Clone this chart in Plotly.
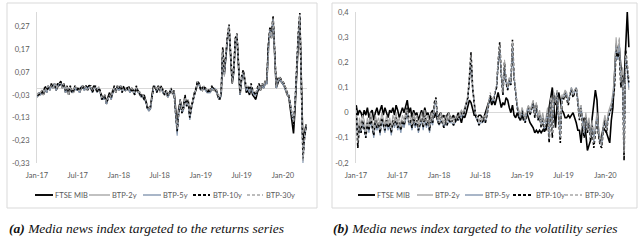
import pandas as pd
import plotly.graph_objects as go

W, H = 640, 252

# ---------------- data ----------------
dates = pd.date_range("2017-01-02", periods=172, freq="7D")
names = ["FTSE MIB", "BTP-2y", "BTP-5y", "BTP-10y", "BTP-30y"]

# (a) returns-targeted index
ret_ftse = [-0.04,-0.02,-0.03,-0.01,-0.03,0.00,-0.02,0.01,-0.01,0.02,
 0.00,0.02,-0.01,0.01,0.02,0.03,0.00,0.02,-0.02,0.01,
 -0.03,0.00,-0.01,-0.02,0.01,-0.01,0.00,-0.02,0.00,0.01,
 -0.01,0.01,0.00,0.01,0.00,-0.01,0.01,0.00,-0.01,0.00,
 -0.02,-0.04,-0.05,-0.03,-0.07,-0.04,-0.02,-0.05,-0.01,0.00,
 -0.02,0.01,-0.01,0.01,-0.01,0.00,-0.01,0.00,0.00,-0.02,
 0.00,-0.01,-0.02,0.00,-0.01,-0.02,-0.03,-0.04,-0.03,-0.06,
 -0.08,-0.10,-0.09,-0.03,0.01,0.00,-0.01,0.01,-0.01,0.00,
 -0.02,-0.02,-0.01,-0.04,-0.02,-0.01,-0.02,-0.01,-0.10,-0.17,
 -0.09,-0.06,-0.10,-0.08,-0.04,-0.07,-0.06,-0.12,-0.08,-0.06,
 -0.02,-0.01,0.03,0.01,0.00,-0.01,0.00,0.00,-0.02,-0.01,
 -0.02,0.00,0.00,-0.01,-0.01,-0.04,-0.05,-0.03,0.17,0.06,
 0.16,0.22,0.26,0.15,0.02,0.07,0.21,0.23,0.11,-0.03,
 0.04,0.07,0.03,-0.02,-0.01,-0.03,0.00,-0.03,-0.04,-0.05,
 -0.02,0.00,-0.01,0.01,0.00,0.02,0.02,0.18,0.25,0.22,
 0.30,0.14,0.00,0.02,0.04,0.03,0.02,0.01,-0.01,-0.03,
 -0.04,-0.09,-0.15,-0.20,-0.09,0.10,0.20,0.31,-0.05,-0.25,-0.20,-0.16]

ret_btp2 = [-0.04,-0.03,-0.02,-0.02,-0.03,0.00,-0.02,0.00,-0.01,0.01,
 0.00,0.01,-0.01,0.01,0.01,0.02,0.00,0.01,-0.02,0.00,
 -0.03,0.00,-0.02,-0.02,0.00,-0.01,-0.01,-0.02,0.00,0.00,
 -0.01,0.00,-0.01,0.00,0.00,-0.02,0.00,0.00,-0.02,-0.01,
 -0.02,-0.05,-0.05,-0.04,-0.07,-0.05,-0.03,-0.05,-0.02,0.00,
 -0.02,0.00,-0.01,0.00,-0.02,0.00,-0.01,-0.01,0.00,-0.02,
 -0.01,-0.02,-0.03,0.00,-0.02,-0.03,-0.04,-0.04,-0.05,-0.06,
 -0.09,-0.10,-0.09,-0.04,0.00,0.00,-0.02,0.00,-0.02,0.00,
 -0.02,-0.03,-0.02,-0.04,-0.03,-0.01,-0.03,-0.02,-0.11,-0.20,
 -0.11,-0.06,-0.11,-0.10,-0.04,-0.08,-0.06,-0.14,-0.09,-0.06,
 -0.03,-0.01,0.02,0.01,-0.01,-0.01,0.00,-0.01,-0.02,-0.02,
 -0.02,0.00,-0.01,-0.01,-0.02,-0.04,-0.05,-0.03,0.16,0.05,
 0.16,0.21,0.26,0.15,0.02,0.07,0.20,0.23,0.11,-0.03,
 0.04,0.07,0.03,-0.01,0.00,-0.02,0.01,-0.02,-0.03,-0.03,
 -0.01,0.01,-0.01,0.01,0.00,0.02,0.02,0.17,0.25,0.22,
 0.30,0.14,0.00,0.03,0.04,0.03,0.02,0.01,-0.01,-0.03,
 -0.04,-0.08,-0.12,-0.16,-0.07,0.10,0.22,0.31,-0.08,-0.32,-0.22,-0.18]

ret_btp5 = [-0.04,-0.02,-0.03,-0.02,-0.02,0.00,-0.02,0.01,-0.01,0.01,
 0.00,0.02,-0.01,0.02,0.01,0.02,0.01,0.01,-0.02,0.00,
 -0.02,0.00,-0.02,-0.01,0.00,-0.01,-0.01,-0.02,0.01,0.00,
 -0.01,0.01,-0.01,0.01,0.00,-0.02,0.00,0.01,-0.02,0.00,
 -0.02,-0.05,-0.05,-0.04,-0.07,-0.05,-0.03,-0.05,-0.02,0.00,
 -0.01,0.00,-0.01,0.01,-0.02,0.00,-0.01,-0.01,0.00,-0.02,
 -0.01,-0.01,-0.03,0.00,-0.02,-0.02,-0.04,-0.03,-0.05,-0.06,
 -0.09,-0.10,-0.09,-0.04,0.00,0.01,-0.02,0.00,-0.01,0.00,
 -0.02,-0.03,-0.01,-0.04,-0.03,0.00,-0.02,-0.02,-0.11,-0.21,
 -0.11,-0.06,-0.11,-0.10,-0.04,-0.08,-0.06,-0.14,-0.09,-0.06,
 -0.03,-0.01,0.03,0.01,-0.01,0.00,0.00,-0.01,-0.02,-0.02,
 -0.02,0.00,-0.01,0.00,-0.02,-0.04,-0.05,-0.03,0.17,0.06,
 0.16,0.22,0.27,0.15,0.03,0.07,0.21,0.23,0.11,-0.03,
 0.04,0.07,0.03,-0.01,0.00,-0.02,0.01,-0.02,-0.03,-0.03,
 -0.01,0.01,0.00,0.01,0.00,0.02,0.02,0.18,0.26,0.23,
 0.31,0.14,0.00,0.03,0.04,0.03,0.02,0.01,-0.01,-0.02,
 -0.04,-0.07,-0.12,-0.15,-0.06,0.11,0.23,0.32,-0.08,-0.33,-0.22,-0.17]

ret_btp10 = [-0.03,-0.03,-0.02,-0.02,-0.02,0.01,-0.01,0.00,0.00,0.01,
 0.01,0.01,0.00,0.02,0.01,0.02,0.01,0.01,-0.01,0.00,
 -0.02,0.01,-0.02,-0.01,0.00,0.00,-0.01,-0.01,0.01,0.00,
 0.00,0.01,-0.01,0.01,0.01,-0.02,0.00,0.01,-0.02,0.00,
 -0.01,-0.05,-0.04,-0.04,-0.06,-0.05,-0.03,-0.04,-0.02,0.01,
 -0.01,0.00,0.00,0.01,-0.02,0.01,-0.01,-0.01,0.01,-0.01,
 -0.01,-0.01,-0.03,0.01,-0.02,-0.02,-0.04,-0.03,-0.05,-0.05,
 -0.09,-0.09,-0.08,-0.04,0.00,0.01,-0.02,0.00,-0.01,0.01,
 -0.01,-0.03,-0.01,-0.03,-0.03,0.00,-0.02,-0.02,-0.11,-0.19,
 -0.11,-0.05,-0.11,-0.09,-0.03,-0.08,-0.05,-0.13,-0.09,-0.05,
 -0.03,0.00,0.03,0.02,-0.01,0.00,0.01,-0.01,-0.01,-0.02,
 -0.01,0.01,-0.01,0.00,-0.02,-0.04,-0.05,-0.02,0.18,0.07,
 0.17,0.23,0.28,0.16,0.03,0.08,0.22,0.24,0.12,-0.02,
 0.05,0.08,0.04,0.00,0.01,-0.01,0.02,-0.01,-0.02,-0.03,
 0.00,0.02,0.00,0.02,0.01,0.03,0.03,0.19,0.27,0.24,
 0.32,0.15,0.01,0.04,0.05,0.04,0.03,0.02,0.00,-0.02,
 -0.03,-0.07,-0.12,-0.16,-0.06,0.12,0.24,0.33,-0.08,-0.31,-0.22,-0.17]

ret_btp30 = [-0.03,-0.02,-0.02,-0.01,-0.02,0.00,-0.01,0.01,0.00,0.01,
 0.00,0.02,0.00,0.01,0.02,0.02,0.00,0.02,-0.01,0.01,
 -0.02,0.00,-0.01,-0.01,0.01,0.00,-0.01,-0.01,0.00,0.01,
 0.00,0.01,-0.01,0.00,0.01,-0.01,0.00,0.00,-0.01,0.01,
 -0.01,-0.04,-0.04,-0.03,-0.06,-0.04,-0.03,-0.04,-0.01,0.00,
 -0.01,0.01,0.00,0.01,-0.01,0.00,0.00,-0.01,0.00,-0.01,
 0.00,-0.01,-0.02,0.00,-0.02,-0.01,-0.03,-0.03,-0.04,-0.05,
 -0.08,-0.09,-0.08,-0.03,0.00,0.01,-0.01,0.01,-0.01,0.00,
 -0.01,-0.02,-0.01,-0.03,-0.02,0.00,-0.02,-0.01,-0.10,-0.18,
 -0.10,-0.05,-0.10,-0.09,-0.04,-0.07,-0.05,-0.12,-0.08,-0.05,
 -0.02,0.00,0.03,0.02,0.00,-0.01,0.01,0.00,-0.01,-0.01,
 -0.01,0.00,-0.01,0.00,-0.01,-0.03,-0.04,-0.02,0.17,0.06,
 0.17,0.22,0.27,0.16,0.03,0.08,0.21,0.24,0.12,-0.02,
 0.05,0.07,0.04,0.00,0.01,-0.01,0.01,-0.01,-0.02,-0.02,
 0.00,0.01,0.00,0.02,0.01,0.03,0.03,0.18,0.26,0.23,
 0.31,0.15,0.01,0.03,0.05,0.04,0.03,0.02,0.00,-0.02,
 -0.03,-0.07,-0.11,-0.15,-0.06,0.11,0.23,0.32,-0.07,-0.32,-0.21,-0.16]

# (b) volatility-targeted index
vol_ftse = [0.03,-0.01,0.01,0.00,-0.02,0.01,-0.01,0.02,-0.02,0.00,
 0.01,-0.03,0.00,0.02,-0.01,0.01,0.03,-0.01,0.02,0.00,
 -0.02,0.01,0.00,0.02,-0.01,0.03,0.01,-0.02,0.00,0.02,
 0.00,0.02,0.05,0.00,0.02,-0.02,0.01,-0.01,0.00,-0.03,
 -0.01,0.01,-0.02,0.02,-0.01,0.00,-0.03,0.00,0.01,-0.02,
 0.00,-0.03,-0.01,0.00,-0.02,-0.01,-0.03,-0.01,0.00,-0.02,
 -0.02,-0.01,-0.03,-0.02,0.00,-0.02,-0.04,-0.01,-0.02,0.00,
 0.02,0.05,0.04,0.01,-0.01,-0.01,-0.02,-0.01,-0.01,-0.02,
 -0.02,0.00,0.02,0.04,0.06,0.03,0.05,0.03,0.06,0.08,
 0.05,0.02,0.04,0.03,0.06,0.05,0.02,0.00,0.03,-0.01,
 -0.02,0.00,-0.02,-0.03,-0.01,-0.03,-0.02,0.00,-0.02,-0.04,
 -0.05,-0.06,-0.08,-0.07,-0.08,-0.07,-0.08,-0.07,-0.06,-0.07,
 -0.04,0.02,0.06,0.10,0.02,-0.06,0.03,0.08,0.05,0.01,
 0.00,-0.02,-0.02,-0.01,-0.02,-0.01,0.00,-0.02,-0.04,-0.07,
 -0.07,-0.12,-0.05,-0.02,-0.08,-0.15,-0.13,-0.11,-0.02,0.05,
 0.09,0.05,-0.08,-0.12,-0.09,-0.06,-0.07,-0.08,-0.10,-0.12,
 -0.03,0.02,0.15,0.27,0.25,0.26,0.18,0.14,0.12,0.24,0.40,0.26]

vol_btp2 = [0.01,-0.10,-0.02,-0.05,-0.01,-0.03,-0.07,-0.02,-0.05,0.00,
 -0.03,-0.06,-0.01,-0.04,-0.02,-0.05,0.00,-0.03,-0.05,-0.01,
 -0.04,-0.02,-0.06,-0.01,-0.03,0.00,-0.04,-0.02,-0.05,-0.01,
 -0.03,0.00,0.02,-0.02,-0.01,-0.04,0.00,-0.03,-0.01,-0.05,
 -0.02,0.00,-0.04,0.01,-0.03,-0.01,-0.05,0.00,-0.02,0.03,
 0.05,-0.01,-0.03,0.00,-0.02,-0.04,-0.01,-0.03,0.00,-0.02,
 -0.02,-0.03,-0.02,-0.01,-0.02,0.00,0.01,0.00,0.02,0.04,
 0.06,0.12,0.20,0.09,0.03,-0.01,-0.02,-0.03,-0.02,-0.03,
 -0.01,-0.02,0.01,0.04,0.07,0.06,0.05,0.08,0.10,0.18,
 0.24,0.15,0.09,0.19,0.13,0.11,0.14,0.12,0.25,0.14,
 0.08,0.03,0.01,-0.01,0.02,0.00,-0.02,0.01,0.03,0.01,
 0.03,0.05,0.00,0.04,-0.01,0.01,-0.03,0.00,-0.04,-0.02,
 0.02,-0.07,0.06,-0.05,0.08,0.05,0.09,0.00,-0.07,0.07,
 0.07,0.09,0.08,0.05,0.08,0.10,0.08,0.09,0.10,0.06,
 0.00,0.03,-0.03,-0.06,0.00,-0.05,-0.02,-0.08,-0.03,-0.10,
 -0.04,0.00,-0.06,-0.10,-0.11,-0.04,-0.01,-0.05,0.00,0.02,
 0.04,0.08,0.15,0.30,0.22,0.29,0.14,0.18,-0.10,0.20,0.17,0.09]

vol_btp5 = [0.02,-0.13,-0.05,-0.08,-0.04,-0.06,-0.10,-0.05,-0.08,-0.03,
 -0.06,-0.10,-0.04,-0.07,-0.05,-0.09,-0.03,-0.06,-0.08,-0.04,
 -0.07,-0.05,-0.09,-0.04,-0.06,-0.03,-0.07,-0.05,-0.08,-0.04,
 -0.06,-0.03,0.00,-0.05,-0.04,-0.07,-0.03,-0.06,-0.04,-0.08,
 -0.05,-0.03,-0.07,-0.02,-0.06,-0.04,-0.08,-0.03,-0.05,0.02,
 0.05,-0.03,-0.05,-0.03,-0.04,-0.06,-0.04,-0.05,-0.03,-0.04,
 -0.04,-0.05,-0.04,-0.03,-0.03,-0.02,-0.01,-0.02,0.01,0.03,
 0.06,0.13,0.22,0.10,0.03,-0.02,-0.03,-0.05,-0.04,-0.04,
 -0.03,-0.04,-0.01,0.03,0.07,0.05,0.04,0.08,0.10,0.19,
 0.26,0.15,0.07,0.19,0.12,0.09,0.13,0.11,0.27,0.14,
 0.08,0.02,-0.01,-0.03,0.01,-0.02,-0.04,0.00,0.02,-0.01,
 0.02,0.04,-0.02,0.03,-0.03,-0.01,-0.05,-0.02,-0.07,-0.04,
 0.00,-0.10,0.05,-0.08,0.07,0.04,0.08,-0.03,-0.10,0.06,
 0.06,0.08,0.07,0.04,0.07,0.10,0.07,0.08,0.10,0.05,
 -0.02,0.02,-0.05,-0.09,-0.02,-0.07,-0.04,-0.10,-0.05,-0.12,
 -0.06,-0.02,-0.08,-0.12,-0.13,-0.06,-0.03,-0.07,-0.02,0.00,
 0.02,0.06,0.12,0.26,0.21,0.27,0.11,0.16,-0.15,0.22,0.18,0.10]

vol_btp10 = [0.02,-0.14,-0.05,-0.08,-0.03,-0.06,-0.10,-0.04,-0.07,-0.02,
 -0.05,-0.09,-0.03,-0.06,-0.04,-0.08,-0.02,-0.05,-0.07,-0.03,
 -0.06,-0.04,-0.08,-0.03,-0.05,-0.02,-0.06,-0.04,-0.07,-0.03,
 -0.05,-0.02,0.02,-0.04,-0.03,-0.06,-0.02,-0.05,-0.03,-0.07,
 -0.04,-0.02,-0.06,-0.01,-0.05,-0.03,-0.07,-0.02,-0.04,0.04,
 0.06,-0.03,-0.05,-0.02,-0.04,-0.06,-0.03,-0.05,-0.02,-0.04,
 -0.03,-0.05,-0.04,-0.02,-0.03,-0.01,0.00,-0.02,0.01,0.04,
 0.06,0.14,0.24,0.10,0.03,-0.02,-0.03,-0.05,-0.03,-0.04,
 -0.02,-0.04,-0.01,0.03,0.07,0.05,0.04,0.08,0.10,0.20,
 0.28,0.15,0.07,0.20,0.12,0.09,0.13,0.11,0.29,0.14,
 0.08,0.02,-0.01,-0.03,0.01,-0.02,-0.04,0.00,0.02,-0.01,
 0.02,0.04,-0.02,0.03,-0.03,-0.01,-0.06,-0.02,-0.08,-0.05,
 0.00,-0.12,0.05,-0.10,0.07,0.03,0.08,-0.04,-0.12,0.06,
 0.05,0.08,0.06,0.03,0.07,0.09,0.06,0.08,0.10,0.04,
 -0.03,0.02,-0.06,-0.10,-0.02,-0.08,-0.04,-0.11,-0.05,-0.14,
 -0.07,-0.02,-0.09,-0.13,-0.14,-0.06,-0.03,-0.08,-0.02,0.00,
 0.02,0.05,0.10,0.25,0.22,0.24,0.10,0.15,-0.19,0.25,0.18,0.12]

vol_btp30 = [0.01,-0.12,-0.04,-0.07,-0.03,-0.05,-0.09,-0.04,-0.06,-0.02,
 -0.04,-0.08,-0.03,-0.05,-0.04,-0.07,-0.02,-0.04,-0.06,-0.03,
 -0.05,-0.03,-0.07,-0.03,-0.05,-0.02,-0.05,-0.04,-0.06,-0.03,
 -0.04,-0.02,0.01,-0.04,-0.02,-0.05,-0.02,-0.04,-0.03,-0.06,
 -0.04,-0.02,-0.05,-0.01,-0.04,-0.03,-0.06,-0.02,-0.03,0.03,
 0.05,-0.02,-0.04,-0.02,-0.03,-0.05,-0.03,-0.04,-0.02,-0.03,
 -0.03,-0.04,-0.03,-0.02,-0.02,-0.01,0.00,-0.01,0.02,0.05,
 0.07,0.15,0.23,0.11,0.04,-0.01,-0.02,-0.04,-0.03,-0.03,
 -0.02,-0.03,0.00,0.04,0.08,0.06,0.05,0.09,0.11,0.21,
 0.27,0.16,0.08,0.21,0.13,0.10,0.14,0.12,0.28,0.15,
 0.09,0.03,0.00,-0.02,0.02,-0.01,-0.03,0.01,0.03,0.00,
 0.03,0.05,-0.01,0.04,-0.02,0.00,-0.05,-0.01,-0.06,-0.04,
 0.01,-0.10,0.06,-0.08,0.08,0.04,0.09,-0.02,-0.10,0.07,
 0.06,0.09,0.07,0.04,0.08,0.10,0.07,0.09,0.10,0.05,
 -0.02,0.03,-0.05,-0.08,-0.01,-0.07,-0.03,-0.10,-0.04,-0.12,
 -0.06,-0.01,-0.08,-0.12,-0.13,-0.05,-0.02,-0.07,-0.01,0.01,
 0.03,0.07,0.14,0.28,0.24,0.30,0.12,0.17,-0.16,0.23,0.20,0.14]

ret_series = [ret_ftse, ret_btp2, ret_btp5, ret_btp10, ret_btp30]
vol_series = [vol_ftse, vol_btp2, vol_btp5, vol_btp10, vol_btp30]

x_tick_dates = ["2017-01-01", "2017-07-01", "2018-01-01", "2018-07-01",
                "2019-01-01", "2019-07-01", "2020-01-01"]
x_tick_text = ["Jan-17", "Jul-17", "Jan-18", "Jul-18", "Jan-19", "Jul-19", "Jan-20"]
ret_ticks = [0.27, 0.17, 0.07, -0.03, -0.13, -0.23, -0.33]
ret_tick_text = ["0,27", "0,17", "0,07", "-0,03", "-0,13", "-0,23", "-0,33"]
vol_ticks = [0.4, 0.3, 0.2, 0.1, 0.0, -0.1, -0.2]
vol_tick_text = ["0,4", "0,3", "0,2", "0,1", "0", "-0,1", "-0,2"]

captions = ["<b>(a)</b> Media news index targeted to the returns series",
            "<b>(b)</b> Media news index targeted to the volatility series"]

# ---------------- styles ----------------
colors = ["#000000", "#a6a6a6", "#8497b0", "#000000", "#a6a6a6"]
widths = [1.6, 1.1, 1.1, 1.6, 1.1]
dashes = ["solid", "solid", "solid", "3px,2px", "3px,2px"]
TICK_FONT = dict(family="Lato, Liberation Sans, Arial", size=7.5, color="#595959")

def px_x(p):
    return p / W

def px_y(p):
    return 1 - p / H

fig = go.Figure()
for k, name in enumerate(names):
    fig.add_trace(go.Scatter(x=dates, y=ret_series[k], mode="lines", name=name,
                             line=dict(color=colors[k], width=widths[k], dash=dashes[k]),
                             xaxis="x", yaxis="y", showlegend=False))
for k, name in enumerate(names):
    fig.add_trace(go.Scatter(x=dates, y=vol_series[k], mode="lines", name=name,
                             line=dict(color=colors[k], width=widths[k], dash=dashes[k]),
                             xaxis="x2", yaxis="y2", showlegend=False))

common_x = dict(type="date", tickvals=x_tick_dates, ticktext=x_tick_text, showgrid=False,
                showline=False, ticks="", zeroline=False, tickfont=TICK_FONT,
                ticklabelstandoff=6, tickangle=0, automargin=False)
common_y = dict(showgrid=False, showline=True, linecolor="#d9d9d9", linewidth=1, ticks="",
                zeroline=True, zerolinecolor="#d9d9d9", zerolinewidth=1, tickfont=TICK_FONT,
                ticklabelstandoff=5, automargin=False)

fig.update_layout(
    template="none",
    width=W, height=H, margin=dict(l=0, r=0, t=0, b=0, autoexpand=False),
    paper_bgcolor="white", plot_bgcolor="white",
    xaxis=dict(domain=[px_x(37), px_x(307)], range=["2017-01-01", "2020-04-17"], anchor="y", **common_x),
    yaxis=dict(domain=[px_y(163), px_y(12)], range=[-0.33, 0.335], tickvals=ret_ticks,
               ticktext=ret_tick_text, anchor="x", **common_y),
    xaxis2=dict(domain=[px_x(356), px_x(630)], range=["2017-01-01", "2020-04-18"], anchor="y2", **common_x),
    yaxis2=dict(domain=[px_y(163), px_y(12)], range=[-0.2, 0.4], tickvals=vol_ticks,
                ticktext=vol_tick_text, anchor="x2", **common_y),
    showlegend=False,
)

# panel frames
shapes = []
for x0, x1 in [(7, 317), (332, 637)]:
    shapes.append(dict(type="rect", xref="paper", yref="paper", x0=px_x(x0), x1=px_x(x1),
                       y0=px_y(208), y1=px_y(3), line=dict(color="#d9d9d9", width=1),
                       fillcolor="rgba(0,0,0,0)", layer="below"))

# legends (one per panel)
leg_y = px_y(195)
legend_pos = [
    [(35, 53, 54), (89, 110, 111), (143, 161, 162), (193, 210, 212), (247, 263, 265)],
    [(358, 375, 376), (417, 433, 434), (465, 483, 484), (513, 532, 535), (565, 582, 584)],
]
annotations = []
for panel in legend_pos:
    for k, (lx0, lx1, tx) in enumerate(panel):
        shapes.append(dict(type="line", xref="paper", yref="paper", x0=px_x(lx0), x1=px_x(lx1),
                           y0=leg_y, y1=leg_y,
                           line=dict(color=colors[k], width=widths[k] + 0.3, dash=dashes[k])))
        annotations.append(dict(xref="paper", yref="paper", x=px_x(tx), y=leg_y, text=names[k],
                                showarrow=False, xanchor="left", yanchor="middle", font=TICK_FONT,
                                borderpad=0))

for cx, cap in zip([8, 332], captions):
    annotations.append(dict(xref="paper", yref="paper", x=px_x(cx), y=px_y(228), text="<i>" + cap + "</i>",
                            showarrow=False, xanchor="left", yanchor="middle", borderpad=0,
                            font=dict(family="Liberation Serif, DejaVu Serif, serif", size=13.5, color="#111111")))

fig.update_layout(shapes=shapes, annotations=annotations)
fig.write_html("out.html", config={"displayModeBar": False},
               post_script="document.body.style.margin='0';document.body.style.padding='0';")
